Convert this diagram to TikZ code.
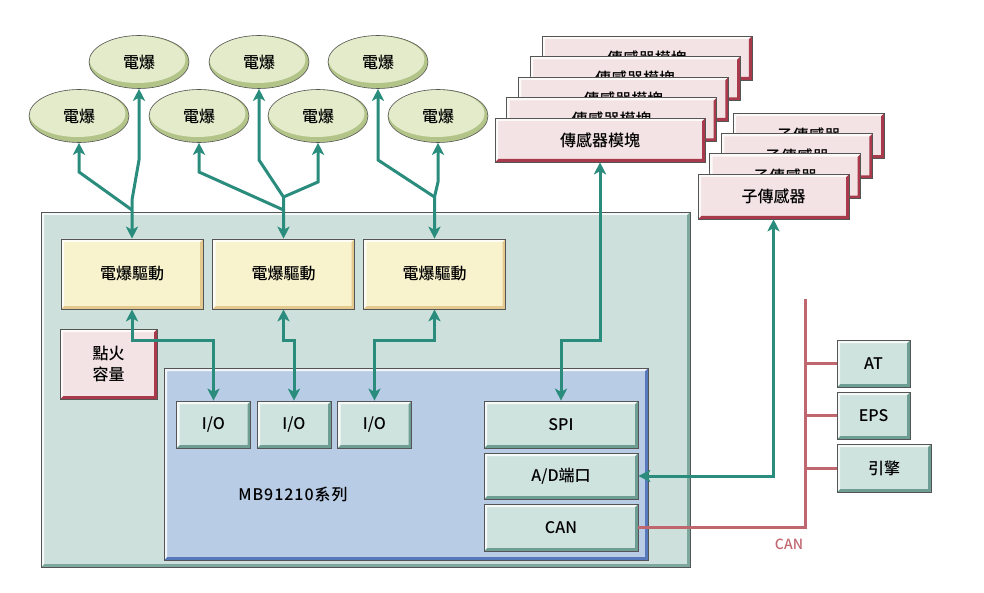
\documentclass[tikz,border=0pt]{standalone}
\usepackage{fontspec}
\setmainfont{Noto Sans CJK TC}[UprightFont={* Medium}]
\usetikzlibrary{arrows.meta}
\usetikzlibrary{calc}
\usetikzlibrary{shapes}

\definecolor{boardfill}{HTML}{CDE0DC}
\definecolor{boarddark}{HTML}{7DA89D}
\definecolor{drvfill}{HTML}{F8F2CD}
\definecolor{drvdark}{HTML}{E3C98E}
\definecolor{redfill}{HTML}{F4E3E4}
\definecolor{reddark}{HTML}{A83A4C}
\definecolor{mcufill}{HTML}{B9CCE6}
\definecolor{mcudark}{HTML}{5779BC}
\definecolor{modfill}{HTML}{CFE3DE}
\definecolor{moddark}{HTML}{6E9E93}
\definecolor{efill}{HTML}{E4EBCB}
\definecolor{edark}{HTML}{B3C489}
\definecolor{linkcol}{HTML}{2A8C7C}
\definecolor{cancol}{HTML}{C0666E}
\definecolor{edgecol}{HTML}{555555}

\tikzset{
  bevel/.style={path picture={
      \fill[#1] (path picture bounding box.south west) -- (path picture bounding box.south east)
        -- (path picture bounding box.north east) -- ++(-3pt,-3pt)
        |- ($(path picture bounding box.south west)+(3pt,3pt)$) -- cycle;
      \fill[white,opacity=0.8] (path picture bounding box.south west) -- (path picture bounding box.north west)
        -- (path picture bounding box.north east) -- ++(-3pt,-3pt)
        -| ($(path picture bounding box.south west)+(3pt,3pt)$) -- cycle;
  }},
  sz/.style 2 args={minimum width=#1pt, minimum height=#2pt},
  box/.style={draw=edgecol, line width=0.6pt, rectangle, inner sep=0pt, align=center},
  board/.style={box, fill=boardfill, bevel=boarddark},
  drv/.style={box, fill=drvfill, bevel=drvdark, sz={142}{70}},
  redbox/.style={box, fill=redfill, bevel=reddark},
  mcu/.style={box, fill=mcufill, bevel=mcudark},
  mod/.style={box, fill=modfill, bevel=moddark},
  det/.style={ellipse, draw=edgecol, line width=0.6pt, inner sep=0pt, sz={100}{53}, fill=edark,
    path picture={\fill[efill] ([shift={(-1.5pt,2.5pt)}]path picture bounding box.center) ellipse (48pt and 23.5pt);}},
  link/.style={draw=linkcol, line width=3pt},
  bus/.style={draw=cancol, line width=3pt},
}

\begin{document}
\begin{tikzpicture}[x=1pt, y=-1pt, >={Stealth[length=12pt,width=12pt,inset=3pt]},
    font=\fontsize{16}{21}\selectfont]
  \path[use as bounding box] (0,0) rectangle (984,593);

%%%%%%%%%%%% Board
  \node[board, sz={649}{355}] (board) at (365.5,389.5) {};
  \foreach \n/\x in {1/132,2/283.5,3/434.5} {
    \node[drv] (drv\n) at (\x,274) {電爆驅動};
  }
  \node[redbox, sz={97}{70}] (ign) at (108.5,364) {點火\\容量};

%%%%%%%%%%%% MCU
  \node[mcu, sz={484}{192}] (mcu) at (406,464) {};
  \foreach \n/\x in {1/213.5,2/294,3/374.5} {
    \node[mod, sz={74}{47}] (io\n) at (\x,424.5) {I/O};
  }
  \node[mod, sz={154}{47}] (spi) at (561,424.5) {SPI};
  \node[mod, sz={154}{46}] (adc) at (561,476) {A/D端口};
  \node[mod, sz={154}{47}] (can) at (561,527.5) {CAN};
  \node[font=\fontsize{16}{21}\selectfont\addfontfeatures{LetterSpace=6}] (mcuname) at (293,494) {MB91210系列};

%%%%%%%%%%%% Detonators
  \foreach \n/\x in {1/139,2/259,3/378} {
    \node[det] (top\n) at (\x,62) {電爆};
  }
  \foreach \n/\x in {1/79,2/199,3/318,4/438} {
    \node[det] (bot\n) at (\x,116) {電爆};
  }

%%%%%%%%%%%% Sensors
  \foreach \k in {4,3,2,1,0} {
    \node[redbox, sz={210}{44}] (sens\k) at ({600+11.7*\k},{140-20.5*\k}) {傳感器模塊};
  }
  \foreach \k in {3,2,1,0} {
    \node[redbox, sz={151}{45}] (sub\k) at ({773.5+11.7*\k},{196.5-20.3*\k}) {子傳感器};
  }

%%%%%%%%%%%% CAN nodes
  \node[mod, sz={73}{47}] (at) at (873.5,363.5) {AT};
  \node[mod, sz={73}{47}] (eps) at (873.5,415.5) {EPS};
  \node[mod, sz={94}{48}] (eng) at (884,468) {引擎};

%%%%%%%%%%%% Links
  \coordinate (fork1) at (132,210);
  \coordinate (fork2) at (283.5,210);
  \coordinate (fork3) at (283.5,197);
  \coordinate (fork4) at (434.5,197);
  \draw[link,<->] (drv1.north) -- (132,200) -- (139,160) -- (top1.south);
  \draw[link,->] (fork1) -- (79,172) -- (bot1.south);
  \draw[link,<->] (drv2.north) -- (fork3) -- (259,160) -- (top2.south);
  \draw[link,->] (fork2) -- (199,172) -- (bot2.south);
  \draw[link,->] (fork3) -- (318,182) -- (bot3.south);
  \draw[link,<->] (drv3.north) -- (fork4) -- (438,182) -- (bot4.south);
  \draw[link,->] (fork4) -- (378,160) -- (top3.south);

  \draw[link,<->] (drv1.south) -- (132,340) -| (io1.north);
  \draw[link,<->] (drv2.south) -- (283.5,340) -| (io2.north);
  \draw[link,<->] (drv3.south) -- (434.5,340) -| (io3.north);
  \draw[link,<->] (sens0.south) -- (600,340) -| (spi.north);
  \draw[link,<->] (sub0.south) |- (adc.east);

%%%%%%%%%%%% CAN bus
  \coordinate (busTop) at (805,299);
  \draw[bus] (can.east) -| (busTop);
  \foreach \m in {at,eps,eng} {
    \draw[bus] (\m.west) -- (\m.west -| busTop);
  }
  \node[text=cancol, font=\fontsize{14}{16}\selectfont] (canlbl) at (789,544) {CAN};
\end{tikzpicture}
\end{document}
